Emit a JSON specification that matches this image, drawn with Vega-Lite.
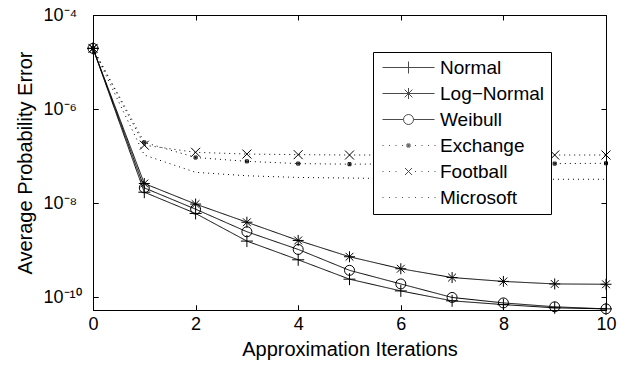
{
  "$schema": "https://vega.github.io/schema/vega-lite/v6.json",
  "width": 513,
  "height": 295,
  "autosize": {"type": "none"},
  "padding": {"left": 93, "top": 15, "right": 26, "bottom": 55},
  "config": {
    "view": {"stroke": "black", "strokeWidth": 1},
    "font": "Liberation Sans",
    "axis": {
      "grid": false, "domain": false, "ticks": true, "tickColor": "black", "tickSize": 5, "tickWidth": 1, "offset": -5,
      "labelColor": "black", "titleColor": "black",
      "labelFont": "Liberation Sans", "titleFont": "Liberation Sans",
      "labelFontSize": 18, "titleFontSize": 20, "titleFontWeight": "normal"
    }
  },
  "data": {"values": [
    {"series": "Normal", "iter": 0, "value": 1.95e-5},
    {"series": "Normal", "iter": 1, "value": 1.7e-8},
    {"series": "Normal", "iter": 2, "value": 6.0e-9},
    {"series": "Normal", "iter": 3, "value": 1.55e-9},
    {"series": "Normal", "iter": 4, "value": 6.2e-10},
    {"series": "Normal", "iter": 5, "value": 2.4e-10},
    {"series": "Normal", "iter": 6, "value": 1.35e-10},
    {"series": "Normal", "iter": 7, "value": 8.3e-11},
    {"series": "Normal", "iter": 8, "value": 6.9e-11},
    {"series": "Normal", "iter": 9, "value": 5.9e-11},
    {"series": "Normal", "iter": 10, "value": 5.6e-11},
    {"series": "Log−Normal", "iter": 0, "value": 1.95e-5},
    {"series": "Log−Normal", "iter": 1, "value": 2.6e-8},
    {"series": "Log−Normal", "iter": 2, "value": 9.5e-9},
    {"series": "Log−Normal", "iter": 3, "value": 3.9e-9},
    {"series": "Log−Normal", "iter": 4, "value": 1.6e-9},
    {"series": "Log−Normal", "iter": 5, "value": 7.2e-10},
    {"series": "Log−Normal", "iter": 6, "value": 4.0e-10},
    {"series": "Log−Normal", "iter": 7, "value": 2.6e-10},
    {"series": "Log−Normal", "iter": 8, "value": 2.15e-10},
    {"series": "Log−Normal", "iter": 9, "value": 1.9e-10},
    {"series": "Log−Normal", "iter": 10, "value": 1.87e-10},
    {"series": "Weibull", "iter": 0, "value": 1.95e-5},
    {"series": "Weibull", "iter": 1, "value": 2.1e-8},
    {"series": "Weibull", "iter": 2, "value": 7.4e-9},
    {"series": "Weibull", "iter": 3, "value": 2.45e-9},
    {"series": "Weibull", "iter": 4, "value": 1.03e-9},
    {"series": "Weibull", "iter": 5, "value": 3.7e-10},
    {"series": "Weibull", "iter": 6, "value": 1.9e-10},
    {"series": "Weibull", "iter": 7, "value": 9.8e-11},
    {"series": "Weibull", "iter": 8, "value": 7.5e-11},
    {"series": "Weibull", "iter": 9, "value": 6.2e-11},
    {"series": "Weibull", "iter": 10, "value": 5.6e-11},
    {"series": "Exchange", "iter": 0, "value": 1.95e-5},
    {"series": "Exchange", "iter": 1, "value": 1.95e-7},
    {"series": "Exchange", "iter": 2, "value": 9.3e-8},
    {"series": "Exchange", "iter": 3, "value": 7.7e-8},
    {"series": "Exchange", "iter": 4, "value": 6.9e-8},
    {"series": "Exchange", "iter": 5, "value": 6.7e-8},
    {"series": "Exchange", "iter": 6, "value": 6.8e-8},
    {"series": "Exchange", "iter": 7, "value": 6.8e-8},
    {"series": "Exchange", "iter": 8, "value": 6.9e-8},
    {"series": "Exchange", "iter": 9, "value": 6.9e-8},
    {"series": "Exchange", "iter": 10, "value": 7.0e-8},
    {"series": "Football", "iter": 0, "value": 1.95e-5},
    {"series": "Football", "iter": 1, "value": 1.7e-7},
    {"series": "Football", "iter": 2, "value": 1.2e-7},
    {"series": "Football", "iter": 3, "value": 1.1e-7},
    {"series": "Football", "iter": 4, "value": 1.07e-7},
    {"series": "Football", "iter": 5, "value": 1.05e-7},
    {"series": "Football", "iter": 6, "value": 1.05e-7},
    {"series": "Football", "iter": 7, "value": 1.05e-7},
    {"series": "Football", "iter": 8, "value": 1.05e-7},
    {"series": "Football", "iter": 9, "value": 1.05e-7},
    {"series": "Football", "iter": 10, "value": 1.05e-7},
    {"series": "Microsoft", "iter": 0, "value": 1.95e-5},
    {"series": "Microsoft", "iter": 1, "value": 1.05e-7},
    {"series": "Microsoft", "iter": 2, "value": 4.5e-8},
    {"series": "Microsoft", "iter": 3, "value": 3.8e-8},
    {"series": "Microsoft", "iter": 4, "value": 3.5e-8},
    {"series": "Microsoft", "iter": 5, "value": 3.4e-8},
    {"series": "Microsoft", "iter": 6, "value": 3.3e-8},
    {"series": "Microsoft", "iter": 7, "value": 3.3e-8},
    {"series": "Microsoft", "iter": 8, "value": 3.25e-8},
    {"series": "Microsoft", "iter": 9, "value": 3.2e-8},
    {"series": "Microsoft", "iter": 10, "value": 3.2e-8}
  ]},
  "layer": [
    {
      "mark": {"type": "line", "color": "black", "strokeWidth": 1},
      "encoding": {
        "x": {"field": "iter", "type": "quantitative", "scale": {"domain": [0, 10], "nice": false},
          "axis": {"orient": "bottom", "values": [0, 2, 4, 6, 8, 10], "labelFlush": false, "labelPadding": 5, "title": "Approximation Iterations", "titlePadding": 6}},
        "y": {"field": "value", "type": "quantitative", "scale": {"type": "log", "domain": [5.3e-11, 1e-4], "nice": false},
          "axis": {"orient": "left", "values": [1e-10, 1e-8, 1e-6, 1e-4],
            "labelExpr": "datum.value < 1e-9 ? '10⁻¹⁰' : datum.value < 1e-7 ? '10⁻⁸' : datum.value < 1e-5 ? '10⁻⁶' : '10⁻⁴'",
            "labelAlign": "left", "labelBaseline": "middle", "labelPadding": 50, "labelFlush": false, "labelOverlap": false,
            "title": "Average Probability Error", "titlePadding": 8}},
        "strokeDash": {"field": "series", "type": "nominal",
          "scale": {"domain": ["Normal", "Log−Normal", "Weibull", "Exchange", "Football", "Microsoft"],
            "range": [[1, 0], [1, 0], [1, 0], [1, 4], [1, 4], [1, 4]]}, "legend": null}
      }
    },
    {
      "transform": [{"filter": "datum.series !== 'Microsoft'"}],
      "mark": {"type": "point", "filled": false, "stroke": "black", "strokeWidth": 1, "size": 100, "opacity": 1},
      "encoding": {
        "x": {"field": "iter", "type": "quantitative", "scale": {"domain": [0, 10], "nice": false}, "axis": null},
        "y": {"field": "value", "type": "quantitative", "scale": {"type": "log", "domain": [5.3e-11, 1e-4], "nice": false}, "axis": null},
        "shape": {"field": "series", "type": "nominal",
          "scale": {"domain": ["Normal", "Log−Normal", "Weibull", "Exchange", "Football"],
            "range": [
              "M-1.2,0L1.2,0M0,-1.2L0,1.2",
              "M-1.1,0L1.1,0M0,-1.1L0,1.1M-0.78,-0.78L0.78,0.78M-0.78,0.78L0.78,-0.78",
              "M1,0A1,1,0,1,1,-1,0A1,1,0,1,1,1,0",
              "M-0.3,-0.3L0.3,-0.3L0.3,0.3L-0.3,0.3ZM-0.1,-0.1L0.1,-0.1L0.1,0.1L-0.1,0.1Z",
              "M-0.9,-0.9L0.9,0.9M-0.9,0.9L0.9,-0.9"
            ]}, "legend": null}
      }
    },
    {
      "transform": [{"filter": "false"}],
      "mark": {"type": "point", "filled": false, "stroke": "black", "strokeWidth": 1, "size": 100},
      "encoding": {
        "x": {"field": "iter", "type": "quantitative", "scale": {"domain": [0, 10], "nice": false},
          "axis": {"orient": "top", "values": [0, 2, 4, 6, 8, 10], "labels": false, "title": null}},
        "y": {"field": "value", "type": "quantitative", "scale": {"type": "log", "domain": [5.3e-11, 1e-4], "nice": false},
          "axis": {"orient": "right", "values": [1e-10, 1e-8, 1e-6, 1e-4], "labels": false, "title": null}},
        "shape": {"field": "series", "type": "nominal",
          "scale": {"domain": ["Normal", "Log−Normal", "Weibull", "Exchange", "Football", "Microsoft"],
            "range": [
              "M-5.2,0L5.2,0M0,-1.2L0,1.2",
              "M-5.2,0L5.2,0M0,-1.1L0,1.1M-0.78,-0.78L0.78,0.78M-0.78,0.78L0.78,-0.78",
              "M-5.2,0L-1,0M1,0L5.2,0M1,0A1,1,0,1,1,-1,0A1,1,0,1,1,1,0",
              "M-5.2,0L-5,0M-3.9,0L-3.7,0M-2.6,0L-2.4,0M-1.3,0L-1.1,0M1.3,0L1.5,0M2.6,0L2.8,0M3.9,0L4.1,0M5.2,0L5.4,0M-0.3,-0.3L0.3,-0.3L0.3,0.3L-0.3,0.3ZM-0.1,-0.1L0.1,-0.1L0.1,0.1L-0.1,0.1Z",
              "M-5.2,0L-5,0M-3.9,0L-3.7,0M-2.6,0L-2.4,0M1.3,0L1.5,0M2.6,0L2.8,0M3.9,0L4.1,0M5.2,0L5.4,0M-0.7,-0.7L0.7,0.7M-0.7,0.7L0.7,-0.7",
              "M-5.2,0L-5,0M-3.9,0L-3.7,0M-2.6,0L-2.4,0M-1.3,0L-1.1,0M0,0L0.2,0M1.3,0L1.5,0M2.6,0L2.8,0M3.9,0L4.1,0M5.2,0L5.4,0"
            ]},
          "legend": {"orient": "none", "legendX": 280, "legendY": 37, "title": null,
            "strokeColor": "black", "fillColor": "white", "padding": 6,
            "symbolSize": 100, "symbolStrokeColor": "black", "symbolStrokeWidth": 1, "symbolFillColor": "transparent",
            "labelFont": "Liberation Sans", "labelFontSize": 19, "labelColor": "black",
            "rowPadding": 6, "symbolOffset": 20, "labelOffset": 22}}
      }
    },
    {
      "transform": [{"filter": "false"}],
      "mark": {"type": "point", "filled": false, "stroke": "black"},
      "encoding": {
        "x": {"field": "iter", "type": "quantitative", "scale": {"domain": [0, 10], "nice": false},
          "axis": {"orient": "bottom", "values": [0, 2, 4, 6, 8, 10], "labels": false, "title": null}},
        "y": {"field": "value", "type": "quantitative", "scale": {"type": "log", "domain": [5.3e-11, 1e-4], "nice": false},
          "axis": {"orient": "left", "values": [1e-10, 1e-8, 1e-6, 1e-4], "labels": false, "title": null}}
      }
    }
  ],
  "resolve": {"scale": {"shape": "independent", "strokeDash": "independent"}, "axis": {"x": "independent", "y": "independent"}}
}
